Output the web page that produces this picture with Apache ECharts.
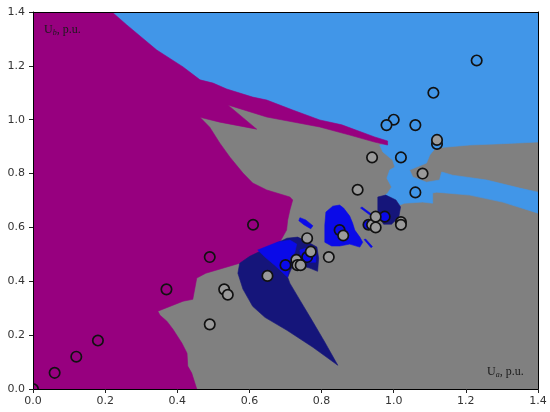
<!DOCTYPE html>
<html><head><meta charset="utf-8">
<script src="https://cdn.jsdelivr.net/npm/echarts@6/dist/echarts.min.js"></script>
<style>html,body{margin:0;padding:0;background:#fff}#c{width:550px;height:412px}</style>
</head><body><div id="c"></div>
<script>
// tick labels
const tickLabels = ['0.0','0.2','0.4','0.6','0.8','1.0','1.2','1.4'];

// scatter points (Ua, Ub) by class
const ptsLight = [[1.23,1.22],[1.11,1.10],[1.0,1.0],[0.98,0.98],[1.06,0.98],[1.12,0.91],[1.02,0.86],[1.06,0.73]];
const ptsBlue = [[0.70,0.46],[0.76,0.49],[0.85,0.59],[0.93,0.61],[0.975,0.64]];
const ptsMagenta = [[0,0],[0.06,0.06],[0.12,0.12],[0.18,0.18],[0.37,0.37],[0.49,0.49],[0.61,0.61]];
const ptsGray = [[0.49,0.24],[0.53,0.37],[0.54,0.35],[0.65,0.42],[0.73,0.48],[0.733,0.46],[0.742,0.46],[0.76,0.56],[0.77,0.51],[0.82,0.49],[0.86,0.57],[0.94,0.61],[0.95,0.64],[0.95,0.60],[1.02,0.62],[1.02,0.61],[0.90,0.74],[0.94,0.86],[1.08,0.80],[1.12,0.925]];

// decision regions (data coordinates)
const regionLight = [[0,1.4],[1.4,1.4],[1.4,0.917],[1.302,0.911],[1.211,0.906],[1.116,0.895],[1.100,0.869],[1.091,0.839],[1.064,0.824],[1.044,0.813],[1.053,0.787],[1.091,0.768],[1.127,0.776],[1.133,0.806],[1.163,0.794],[1.258,0.776],[1.349,0.746],[1.4,0.731],[1.4,0.653],[1.302,0.694],[1.211,0.720],[1.119,0.731],[1.108,0.728],[1.108,0.690],[1.080,0.694],[1.030,0.690],[1.017,0.683],[1.006,0.702],[0.978,0.720],[0.970,0.713],[0.983,0.727],[0.994,0.750],[0.981,0.783],[0.989,0.813],[1.003,0.824],[0.997,0.850],[0.970,0.880],[0.961,0.906],[0.983,0.910],[0.947,0.921],[0.878,0.947],[0.795,0.977],[0.648,1.014],[0.540,1.063]];
const regionMagenta = [[0,1.4],[0.219,1.4],[0.260,1.352],[0.343,1.259],[0.416,1.196],[0.463,1.148],[0.499,1.136],[0.537,1.114],[0.609,1.084],[0.648,1.073],[0.720,1.036],[0.795,0.999],[0.856,0.981],[0.947,0.936],[0.983,0.921],[0.983,0.906],[0.947,0.917],[0.878,0.943],[0.795,0.973],[0.648,1.010],[0.540,1.055],[0.620,0.965],[0.518,0.991],[0.463,1.009],[0.490,0.972],[0.518,0.913],[0.546,0.861],[0.582,0.802],[0.609,0.765],[0.648,0.739],[0.712,0.713],[0.720,0.702],[0.712,0.664],[0.706,0.627],[0.703,0.590],[0.684,0.545],[0.637,0.516],[0.601,0.486],[0.573,0.467],[0.479,0.430],[0.454,0.412],[0.443,0.333],[0.416,0.326],[0.346,0.289],[0.352,0.274],[0.371,0.252],[0.388,0.222],[0.413,0.170],[0.427,0.133],[0.429,0.085],[0.440,0.059],[0.454,0],[0,0]];
const regionNavy = [[0.573,0.467],[0.601,0.493],[0.637,0.516],[0.676,0.542],[0.704,0.560],[0.734,0.564],[0.767,0.542],[0.787,0.527],[0.792,0.486],[0.789,0.437],[0.767,0.449],[0.740,0.460],[0.717,0.449],[0.706,0.415],[0.712,0.393],[0.740,0.330],[0.773,0.256],[0.809,0.174],[0.845,0.088],[0.776,0.155],[0.704,0.218],[0.643,0.266],[0.609,0.307],[0.582,0.371],[0.568,0.430]];
const regionNavySmall = [[0.956,0.713],[0.978,0.720],[1.006,0.702],[1.019,0.676],[1.014,0.638],[0.994,0.612],[0.972,0.612],[0.956,0.649]];
const regionBlue1 = [[0.812,0.657],[0.831,0.679],[0.850,0.683],[0.861,0.672],[0.878,0.642],[0.886,0.616],[0.892,0.590],[0.906,0.564],[0.914,0.545],[0.906,0.527],[0.878,0.538],[0.850,0.531],[0.828,0.531],[0.809,0.545],[0.809,0.609]];
const regionBlue2 = [[0.623,0.516],[0.651,0.531],[0.679,0.546],[0.712,0.553],[0.731,0.538],[0.726,0.508],[0.712,0.471],[0.706,0.415],[0.670,0.460],[0.643,0.490]];
const regionBlue3 = [[0.740,0.516],[0.767,0.527],[0.784,0.508],[0.784,0.471],[0.762,0.471],[0.742,0.490]];
const regionBlueBlob = [[0.740,0.636],[0.756,0.628],[0.776,0.606],[0.770,0.595],[0.751,0.610],[0.737,0.625]];
const regionBlueDash1 = [[0.908,0.672],[0.912,0.676],[0.941,0.647],[0.937,0.643]];
const regionBlueDash2 = [[0.918,0.555],[0.922,0.557],[0.941,0.529],[0.937,0.525]];

const C = {gray:'#808080', magenta:'#97007f', light:'#4196e8', navy:'#15157a', blue:'#0a0ae8', grayPt:'#9a9a9a'};

function polySeries(poly, color, z) {
  return {
    type: 'custom', coordinateSystem: 'cartesian2d', silent: true, z: z, clip: true,
    data: [[poly[0][0], poly[0][1]]],
    renderItem: function (params, api) {
      return {type: 'polygon', shape: {points: poly.map(function (p) { return api.coord(p); })},
        style: {fill: color, stroke: color, lineWidth: 0.6}};
    }
  };
}
function ptSeries(pts, fill, z) {
  return {
    type: 'custom', coordinateSystem: 'cartesian2d', silent: true, z: z, clip: true,
    data: pts,
    renderItem: function (params, api) {
      const c = api.coord([api.value(0), api.value(1)]);
      return {type: 'circle', shape: {cx: c[0], cy: c[1], r: 5.2},
        style: {fill: fill, stroke: '#111', lineWidth: 1.7}};
    }
  };
}
const fontLbl = {color: '#333', fontSize: 11, fontFamily: 'DejaVu Sans'};
const richLbl = {
  u: {fontFamily: 'Liberation Serif', fontSize: 12, fill: '#1a1a1a'},
  s: {fontFamily: 'Liberation Serif', fontStyle: 'italic', fontSize: 8, fill: '#1a1a1a', padding: [5, 0, 0, 0]},
  t: {fontFamily: 'Liberation Serif', fontSize: 12, fill: '#1a1a1a'}
};
const chart = echarts.init(document.getElementById('c'), null, {renderer: 'canvas'});
chart.setOption({
  animation: false,
  grid: {left: 33, right: 12, top: 12, bottom: 23, show: true, backgroundColor: C.gray, borderWidth: 0},
  xAxis: [
    {type: 'value', min: 0, max: 1.4, interval: 0.2, z: 10,
     axisLine: {show: true, onZero: false, lineStyle: {color: '#000', width: 1}},
     axisTick: {show: true, length: 4, lineStyle: {color: '#222'}},
     axisLabel: Object.assign({margin: 7, formatter: function (v) { return tickLabels[Math.round(v / 0.2)]; }}, fontLbl),
     splitLine: {show: false}},
    {type: 'value', position: 'top', min: 0, max: 1.4, z: 10,
     axisLine: {show: true, onZero: false, lineStyle: {color: '#000', width: 1}},
     axisTick: {show: false}, axisLabel: {show: false}, splitLine: {show: false}}
  ],
  yAxis: [
    {type: 'value', min: 0, max: 1.4, interval: 0.2, z: 10,
     axisLine: {show: true, onZero: false, lineStyle: {color: '#000', width: 1}},
     axisTick: {show: true, length: 4, lineStyle: {color: '#222'}},
     axisLabel: Object.assign({margin: 8, formatter: function (v) { return tickLabels[Math.round(v / 0.2)]; }}, fontLbl),
     splitLine: {show: false}},
    {type: 'value', position: 'right', min: 0, max: 1.4, z: 10,
     axisLine: {show: true, onZero: false, lineStyle: {color: '#000', width: 1}},
     axisTick: {show: false}, axisLabel: {show: false}, splitLine: {show: false}}
  ],
  graphic: [
    {type: 'text', left: 44, top: 24, z: 20, style: {text: '{u|U}{s|b}{t|, p.u.}', fill: '#1a1a1a', rich: richLbl}},
    {type: 'text', left: 487, top: 366, z: 20, style: {text: '{u|U}{s|a}{t|, p.u.}', fill: '#1a1a1a', rich: richLbl}}
  ],
  series: [
    polySeries(regionLight, C.light, 1),
    polySeries(regionMagenta, C.magenta, 2),
    polySeries(regionNavy, C.navy, 3),
    polySeries(regionNavySmall, C.navy, 3),
    polySeries(regionBlue1, C.blue, 4),
    polySeries(regionBlue2, C.blue, 4),
    polySeries(regionBlue3, C.blue, 4),
    polySeries(regionBlueBlob, C.blue, 4),
    polySeries(regionBlueDash1, C.blue, 4),
    polySeries(regionBlueDash2, C.blue, 4),
    ptSeries(ptsLight, C.light, 6),
    ptSeries(ptsMagenta, C.magenta, 6),
    ptSeries(ptsBlue, C.blue, 6),
    ptSeries(ptsGray, C.grayPt, 7)
  ]
});
</script></body></html>
